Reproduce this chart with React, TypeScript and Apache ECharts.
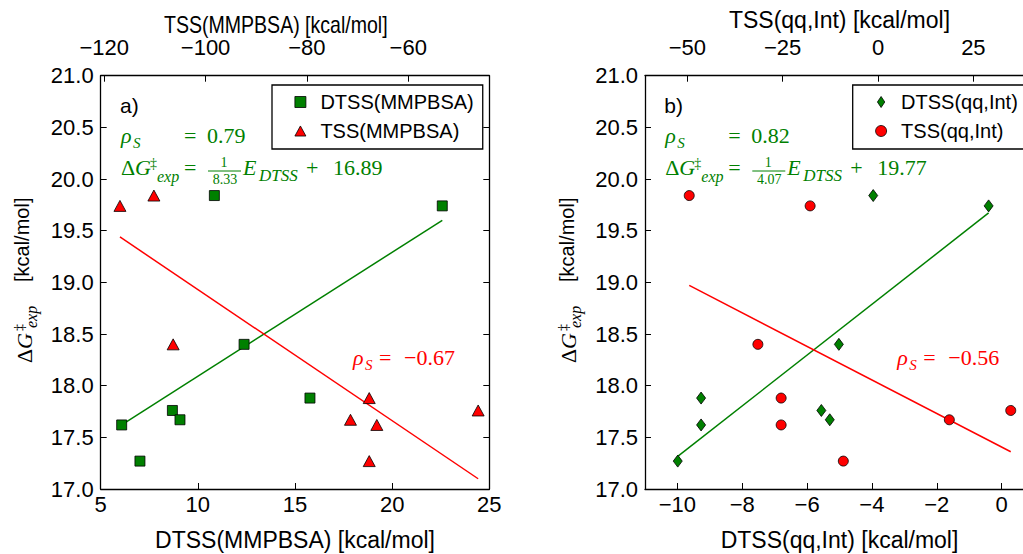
import React, { useEffect, useRef } from "react";
import * as echarts from "echarts";

// Experimental activation free energies (kcal/mol), one per compound
const dgExp = [19.84, 19.74, 18.4, 17.88, 17.76, 17.67, 17.62, 17.27];
// Computed quantities for the same compounds (kcal/mol)
const dtssMmpbsa = [10.85, 22.58, 12.38, 15.77, 8.69, 9.08, 6.08, 7.02];
const tssMmpbsa = [-110.2, -116.9, -106.4, -67.7, -46.2, -71.4, -66.2, -67.7];
const dtssQqInt = [-3.96, -0.4, -5.02, -9.27, -5.56, -5.3, -9.27, -9.99];
const tssQqInt = [-49.5, -17.8, -31.5, -25.4, 34.8, 18.7, -25.4, -9.1];

// Green fits as printed: dG = E / den + intercept  -> [den, intercept]
const dtssMmpbsaFit = [8.33, 16.89];
const dtssQqIntFit = [4.07, 19.77];
// Red fits: dG = slope * E + intercept -> [slope, intercept]
const tssMmpbsaFit = [-0.0331, 15.57];
const tssQqIntFit = [-0.0191, 18.025];

// Spearman coefficients [DTSS, TSS]
const rhoMmpbsa = [0.79, -0.67];
const rhoQqInt = [0.82, -0.56];

// Axis ranges and tick values
const yRange = [17, 21];
const xRangeBottomA = [5, 25];
const xRangeTopA = [-120.7, -44.0];
const xRangeBottomB = [-11, 1];
const xRangeTopB = [-61.1, 40.9];
const xTicksTopA = [-120, -100, -80, -60];
const xTicksBottomB = [-10, -8, -6, -4, -2, 0];
const xTicksTopB = [-50, -25, 0, 25];

const GREEN = "#008000";
const RED = "#ff0000";
const SANS = '"Liberation Sans", Arial, sans-serif';
const SERIF = '"Liberation Serif", "DejaVu Serif", serif';

const fmtMinus = (v: number) => (v < 0 ? "\u2212" : "") + String(Math.abs(v));
const fmtFixed = (v: number) => (v < 0 ? "\u2212" : "") + Math.abs(v).toFixed(2);

const pairs = (xs: number[], ys: number[]) => xs.map((x, i) => [x, ys[i]]);

const lineFrom = (xs: number[], f: (x: number) => number) => {
  const lo = Math.min(...xs);
  const hi = Math.max(...xs);
  return [
    [lo, f(lo)],
    [hi, f(hi)],
  ];
};

// text placed by its alphabetic baseline
function txt(
  x: number,
  baseline: number,
  text: string,
  size: number,
  fill: string,
  family: string = SERIF,
  italic = false,
  align = "left"
) {
  return {
    type: "text",
    x,
    y: baseline - 0.34 * size,
    silent: true,
    style: {
      text,
      fontSize: size,
      fontFamily: family,
      fontStyle: italic ? "italic" : "normal",
      fill,
      align,
      verticalAlign: "middle",
    },
  };
}

function panelText(dx: number, tag: string, rho: number[], fit: number[]) {
  const els: any[] = [];
  els.push(txt(120 + dx, 113, tag, 21, "#000", SANS));
  // rho_S = value
  els.push(txt(121 + dx, 143, "\u03c1", 22, GREEN, SERIF, true));
  els.push(txt(133 + dx, 148, "S", 15, GREEN, SERIF, true));
  els.push(txt(184 + dx, 143, "=", 22, GREEN));
  els.push(txt(207 + dx, 143, fmtFixed(rho[0]), 22, GREEN));
  // dG_exp = 1/den E_DTSS + b
  els.push(txt(121 + dx, 175, "\u0394", 22, GREEN));
  els.push(txt(135 + dx, 175, "G", 22, GREEN, SERIF, true));
  els.push(txt(150 + dx, 168, "\u2021", 14, GREEN));
  els.push(txt(157 + dx, 182, "exp", 16, GREEN, SERIF, true));
  els.push(txt(184 + dx, 175, "=", 22, GREEN));
  els.push(txt(224 + dx, 167, "1", 14, GREEN, SERIF, false, "center"));
  els.push({
    type: "line",
    silent: true,
    shape: { x1: 208 + dx, y1: 171, x2: 241 + dx, y2: 171 },
    style: { stroke: GREEN, lineWidth: 1 },
  });
  els.push(txt(225 + dx, 184, fit[0].toFixed(2), 14, GREEN, SERIF, false, "center"));
  els.push(txt(243 + dx, 175, "E", 22, GREEN, SERIF, true));
  els.push(txt(259 + dx, 181, "DTSS", 17, GREEN, SERIF, true));
  els.push(txt(306 + dx, 175, "+", 22, GREEN));
  els.push(txt(333 + dx, 175, fit[1].toFixed(2), 22, GREEN));
  // red rho_S
  els.push(txt(353 + dx, 365, "\u03c1", 22, RED, SERIF, true));
  els.push(txt(365 + dx, 370, "S", 15, RED, SERIF, true));
  els.push(txt(379 + dx, 365, "=", 22, RED));
  els.push(txt(404 + dx, 365, fmtFixed(rho[1]), 22, RED));
  // y axis label, rotated to read bottom to top
  els.push({
    type: "group",
    x: 29 + dx,
    y: 363,
    rotation: Math.PI / 2,
    silent: true,
    children: [
      txt(0, 3, "\u0394", 22, "#000"),
      txt(14, 3, "G", 22, "#000", SERIF, true),
      txt(32, -5, "\u2021", 14, "#000"),
      txt(35, 8, "exp", 16, "#000", SERIF, true),
      txt(81, 0, "[kcal/mol]", 20, "#000", SANS),
    ],
  });
  return els;
}

const tickStyle = { show: true, inside: true, length: 6, lineStyle: { color: "#000", width: 1 } };
const lineStyle = { show: true, onZero: false, lineStyle: { color: "#000", width: 1.3 } };
const labelBase = { color: "#000", fontSize: 22, fontFamily: SANS };

const legendBase = {
  top: 85,
  orient: "vertical",
  selectedMode: false,
  itemWidth: 11,
  itemHeight: 11,
  itemGap: 9,
  padding: [7, 9, 8, 22.5],
  borderColor: "#000",
  borderWidth: 1.3,
  backgroundColor: "#fff",
  symbolKeepAspect: true,
  itemStyle: { borderColor: "#000", borderWidth: 0.8, opacity: 1 },
  textStyle: { color: "#000", fontSize: 20, fontFamily: SANS, padding: [0, 0, 0, 9.5] },
};

const markerStyle = (color: string) => ({
  color,
  borderColor: "#000",
  borderWidth: 0.8,
  opacity: 1,
});

export default function App() {
  const ref = useRef<HTMLDivElement>(null);

  useEffect(() => {
    if (!ref.current) return;
    const chart = echarts.init(ref.current, undefined, { renderer: "svg" });

    const yAxisFor = (grid: number, right: boolean) => ({
      type: "value",
      gridIndex: grid,
      position: right ? "right" : "left",
      min: yRange[0],
      max: yRange[1],
      interval: 0.5,
      axisLine: lineStyle,
      axisTick: tickStyle,
      splitLine: { show: false },
      axisLabel: right
        ? { show: false }
        : { ...labelBase, margin: 7, formatter: (v: number) => v.toFixed(1) },
    });

    const nameStyle = { color: "#000", fontSize: 23, fontFamily: SANS };

    const option: any = {
      animation: false,
      backgroundColor: "#fff",
      grid: [
        { left: 100.7, top: 75.7, width: 388.6, height: 413.3, outerBoundsMode: "none", containLabel: false },
        { left: 645, top: 75.7, width: 389, height: 413.3, outerBoundsMode: "none", containLabel: false },
      ],
      xAxis: [
        {
          type: "value",
          gridIndex: 0,
          position: "bottom",
          min: xRangeBottomA[0],
          max: xRangeBottomA[1],
          interval: 5,
          axisLine: lineStyle,
          axisTick: tickStyle,
          splitLine: { show: false },
          axisLabel: { ...labelBase, margin: 4 },
          name: "DTSS(MMPBSA) [kcal/mol]",
          nameLocation: "middle",
          nameGap: 39,
          nameTextStyle: nameStyle,
        },
        {
          type: "value",
          gridIndex: 0,
          position: "top",
          min: xRangeTopA[0],
          max: xRangeTopA[1],
          axisLine: lineStyle,
          axisTick: { ...tickStyle, customValues: xTicksTopA },
          splitLine: { show: false },
          axisLabel: { ...labelBase, margin: 17, customValues: xTicksTopA, formatter: fmtMinus },
        },
        {
          type: "value",
          gridIndex: 1,
          position: "bottom",
          min: xRangeBottomB[0],
          max: xRangeBottomB[1],
          axisLine: lineStyle,
          axisTick: { ...tickStyle, customValues: xTicksBottomB },
          splitLine: { show: false },
          axisLabel: { ...labelBase, margin: 4, customValues: xTicksBottomB, formatter: fmtMinus },
          name: "DTSS(qq,Int) [kcal/mol]",
          nameLocation: "middle",
          nameGap: 39,
          nameTextStyle: nameStyle,
        },
        {
          type: "value",
          gridIndex: 1,
          position: "top",
          min: xRangeTopB[0],
          max: xRangeTopB[1],
          axisLine: lineStyle,
          axisTick: { ...tickStyle, customValues: xTicksTopB },
          splitLine: { show: false },
          axisLabel: { ...labelBase, margin: 17, customValues: xTicksTopB, formatter: fmtMinus },
          name: "TSS(qq,Int) [kcal/mol]",
          nameLocation: "middle",
          nameGap: 32,
          nameTextStyle: nameStyle,
        },
      ],
      yAxis: [yAxisFor(0, false), yAxisFor(0, true), yAxisFor(1, false), yAxisFor(1, true)],
      legend: [
        {
          ...legendBase,
          left: 272,
          data: [
            { name: "DTSS(MMPBSA)", icon: "path://M0,0L10,0L10,10L0,10Z" },
            { name: "TSS(MMPBSA)", icon: "path://M6,0L12,11L0,11Z" },
          ],
        },
        {
          ...legendBase,
          left: 852.7,
          data: [
            { name: "DTSS(qq,Int)", icon: "path://M4,0L8,6L4,12L0,6Z" },
            { name: "TSS(qq,Int)", icon: "circle" },
          ],
        },
      ],
      series: [
        {
          name: "DTSS fit MMPBSA",
          type: "line",
          xAxisIndex: 0,
          yAxisIndex: 0,
          showSymbol: false,
          silent: true,
          z: 1,
          lineStyle: { color: GREEN, width: 1.5 },
          data: lineFrom(dtssMmpbsa, (x) => x / dtssMmpbsaFit[0] + dtssMmpbsaFit[1]),
        },
        {
          name: "TSS fit MMPBSA",
          type: "line",
          xAxisIndex: 1,
          yAxisIndex: 0,
          showSymbol: false,
          silent: true,
          z: 1,
          lineStyle: { color: RED, width: 1.5 },
          data: lineFrom(tssMmpbsa, (x) => tssMmpbsaFit[0] * x + tssMmpbsaFit[1]),
        },
        {
          name: "DTSS(MMPBSA)",
          type: "scatter",
          xAxisIndex: 0,
          yAxisIndex: 0,
          symbol: "rect",
          symbolSize: 10,
          z: 3,
          itemStyle: markerStyle(GREEN),
          data: pairs(dtssMmpbsa, dgExp),
        },
        {
          name: "TSS(MMPBSA)",
          type: "scatter",
          xAxisIndex: 1,
          yAxisIndex: 0,
          symbol: "triangle",
          symbolSize: [12, 11],
          z: 3,
          itemStyle: markerStyle(RED),
          data: pairs(tssMmpbsa, dgExp),
        },
        {
          name: "DTSS fit qq,Int",
          type: "line",
          xAxisIndex: 2,
          yAxisIndex: 2,
          showSymbol: false,
          silent: true,
          z: 1,
          lineStyle: { color: GREEN, width: 1.5 },
          data: lineFrom(dtssQqInt, (x) => x / dtssQqIntFit[0] + dtssQqIntFit[1]),
        },
        {
          name: "TSS fit qq,Int",
          type: "line",
          xAxisIndex: 3,
          yAxisIndex: 2,
          showSymbol: false,
          silent: true,
          z: 1,
          lineStyle: { color: RED, width: 1.5 },
          data: lineFrom(tssQqInt, (x) => tssQqIntFit[0] * x + tssQqIntFit[1]),
        },
        {
          name: "DTSS(qq,Int)",
          type: "scatter",
          xAxisIndex: 2,
          yAxisIndex: 2,
          symbol: "diamond",
          symbolSize: [9, 12],
          z: 3,
          itemStyle: markerStyle(GREEN),
          data: pairs(dtssQqInt, dgExp),
        },
        {
          name: "TSS(qq,Int)",
          type: "scatter",
          xAxisIndex: 3,
          yAxisIndex: 2,
          symbol: "circle",
          symbolSize: 10,
          z: 3,
          itemStyle: markerStyle(RED),
          data: pairs(tssQqInt, dgExp),
        },
      ],
      graphic: [
        // top title of the left panel
        {
          type: "text",
          x: 164,
          y: 33 - 0.3465 * 23,
          scaleX: 0.85,
          silent: true,
          style: {
            text: "TSS(MMPBSA) [kcal/mol]",
            fontSize: 23,
            fontFamily: SANS,
            fill: "#000",
            align: "left",
            verticalAlign: "middle",
          },
        },
        ...panelText(0, "a)", rhoMmpbsa, dtssMmpbsaFit),
        ...panelText(544.3, "b)", rhoQqInt, dtssQqIntFit),
      ],
    };

    chart.setOption(option);
    return () => chart.dispose();
  }, []);

  return (
    <div
      ref={ref}
      style={{ position: "fixed", left: 0, top: 0, width: 1023, height: 554, background: "#fff" }}
    />
  );
}
